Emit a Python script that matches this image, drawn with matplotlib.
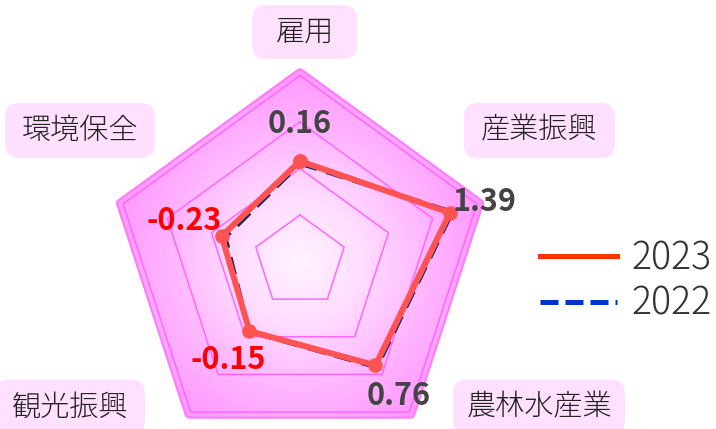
import numpy as np
import matplotlib
matplotlib.use("Agg")
import matplotlib.pyplot as plt
from matplotlib.patches import Polygon, FancyBboxPatch
from matplotlib.lines import Line2D
from matplotlib.colors import LinearSegmentedColormap

plt.rcParams['font.family'] = ['Noto Sans CJK JP', 'DejaVu Sans']

# data
categories = ['雇用', '産業振興', '農林水産業', '観光振興', '環境保全']
values_2023 = [0.16, 1.39, 0.76, -0.15, -0.23]
values_2022 = [0.11, 1.44, 0.81, -0.14, -0.31]
series_names = ['2023', '2022']
r_min, r_max = -2.0, 2.15
ring_levels = [-1, 0, 1, 2]

W, H = 716, 429
fig = plt.figure(figsize=(W / 100, H / 100), dpi=100)

# polar axes placed so the pentagon centre sits at (300, 261) px
cx, cy, rad = 300, 261.5, 193
ax = fig.add_axes([(cx - rad) / W, (H - cy - rad) / H, 2 * rad / W, 2 * rad / H],
                  projection='polar')
ax.set_theta_offset(np.pi / 2)
ax.set_theta_direction(-1)
ax.set_ylim(r_min, r_max)
ax.grid(False)
ax.set_xticks([])
ax.set_yticks([])
ax.spines['polar'].set_visible(False)
ax.patch.set_alpha(0)

n = len(categories)
angles = np.arange(n) * 2 * np.pi / n
closed = np.append(angles, angles[0])

# radial gradient background clipped to the outer pentagon
outer = Polygon(np.column_stack([angles, [r_max] * n]), closed=True,
                transform=ax.transData, fc='none', ec='#ff7aff', lw=1.5, zorder=2)
ax.add_patch(outer)
tt = np.linspace(0, 2 * np.pi, 361)
rr = np.linspace(r_min, r_max, 120)
T, R = np.meshgrid(tt, rr)
cmap = LinearSegmentedColormap.from_list('pinkglow', ['#fff4ff', '#ffdcff', '#ffb6ff', '#ff96ff'])
mesh = ax.pcolormesh(T, R, (R - r_min) / (r_max - r_min), cmap=cmap,
                     shading='gouraud', vmin=0, vmax=1, zorder=1)
mesh.set_clip_path(outer)

for lv in ring_levels:
    ax.plot(closed, [lv] * (n + 1), color='#ff66ff', lw=1.1, zorder=3)

# series
v22 = np.append(values_2022, values_2022[0])
v23 = np.append(values_2023, values_2023[0])
ax.plot(closed, v22, color='#0b2a5e', lw=3.2, dashes=(4, 2.2), zorder=4)
ax.plot(closed, v23, color='#ff5252', lw=4.3, marker='o', ms=9.5, zorder=5,
        solid_joinstyle='round')

# value labels
offsets = [(0, 27), (25, 8), (17, -22), (-15, -21), (-27, 11)]
for a, v, off in zip(angles, values_2023, offsets):
    col = '#ff0000' if v < 0 else '#444444'
    ax.annotate(f'{v:.2f}', (a, v), xytext=off, textcoords='offset points',
                ha='center', va='center', fontsize=22, fontweight='bold',
                color=col, zorder=6, annotation_clip=False)

# category label boxes (centre x, centre y, width, height in px)
boxes = [(304.5, 32, 105, 54), (539.5, 130.5, 151, 55), (539, 407, 172, 55),
         (70, 407, 150, 55), (80, 130.5, 150, 55)]
for name, (bx, by, bw, bh) in zip(categories, boxes):
    p = FancyBboxPatch(((bx - bw / 2) / W, 1 - (by + bh / 2) / H), bw / W, bh / H,
                       boxstyle='round,pad=0,rounding_size=0.02',
                       transform=fig.transFigure, fc='#ffe0ff', ec='none',
                       mutation_aspect=W / H)
    fig.patches.append(p)
    fig.text(bx / W, 1 - by / H, name, ha='center', va='center',
             fontsize=21, fontweight='light', color='#222222')

# legend
handles = [Line2D([], [], color='#ff3300', lw=3.6),
           Line2D([], [], color='#0033cc', lw=3.6, dashes=(3.6, 1.4))]
fig.legend(handles, series_names, loc='upper left',
           bbox_to_anchor=(540 / W, 1 - 239 / H), frameon=False,
           handlelength=2.05, handletextpad=0.4,
           labelspacing=0.15, borderpad=0, borderaxespad=0,
           labelcolor='#333333', prop={'weight': 'light', 'size': 27})

fig.savefig('out.png', dpi=100)
